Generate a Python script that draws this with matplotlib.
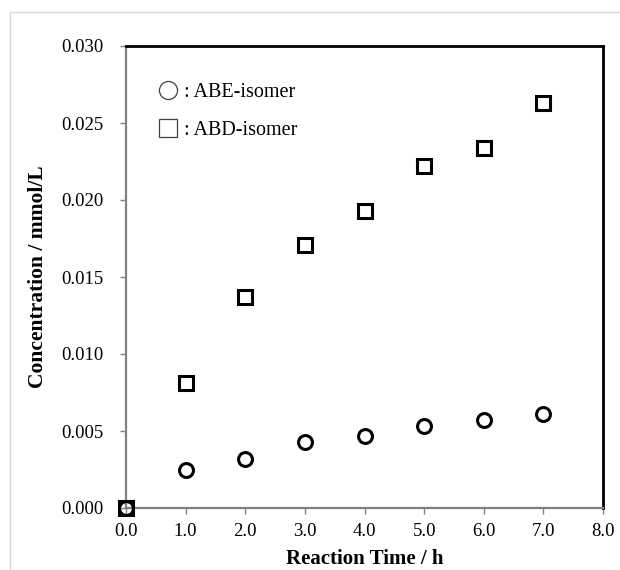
import matplotlib.pyplot as plt
from matplotlib.lines import Line2D
from matplotlib.patches import Rectangle
from matplotlib.ticker import FormatStrFormatter, MultipleLocator

time_h = [0, 1, 2, 3, 4, 5, 6, 7]
abe_isomer = [0.0, 0.0025, 0.0032, 0.0043, 0.0047, 0.0053, 0.0057, 0.0061]
abd_isomer = [0.0, 0.0081, 0.0137, 0.0171, 0.0193, 0.0222, 0.0234, 0.0263]

plt.rcParams['font.family'] = ['Liberation Serif', 'DejaVu Serif']

fig = plt.figure(figsize=(6.2, 5.7), dpi=100)
ax = fig.add_axes([126 / 620, 1 - 508 / 570, 477 / 620, 462 / 570])

# light frame around the chart area
fig.add_artist(Rectangle((10 / 620, -0.1), 2, 1 - 12 / 570 + 0.1,
                         transform=fig.transFigure, fill=False,
                         edgecolor='#d9d9d9', linewidth=1))

ax.plot(time_h, abe_isomer, 'o', ms=10, mfc='none', mec='black', mew=2.2,
        clip_on=False, zorder=5)
ax.plot(time_h, abd_isomer, 's', ms=10, mfc='none', mec='black', mew=2.2,
        clip_on=False, zorder=5)

ax.set_xlim(0, 8)
ax.set_ylim(0, 0.030)
ax.xaxis.set_major_locator(MultipleLocator(1))
ax.yaxis.set_major_locator(MultipleLocator(0.005))
ax.xaxis.set_major_formatter(FormatStrFormatter('%.1f'))
ax.yaxis.set_major_formatter(FormatStrFormatter('%.3f'))

for side in ['left', 'bottom']:
    ax.spines[side].set_color('#808080')
    ax.spines[side].set_linewidth(1.6)
for side in ['top', 'right']:
    ax.spines[side].set_color('black')
    ax.spines[side].set_linewidth(2)

ax.tick_params(axis='y', direction='out', length=4, width=1, color='#808080',
               labelsize=13.5, pad=12)
ax.tick_params(axis='x', direction='out', length=4, width=1, color='#808080',
               labelsize=13.5, pad=7)

ax.set_xlabel('Reaction Time / h', fontsize=15, fontweight='bold', labelpad=6)
ax.set_ylabel('Concentration / mmol/L', fontsize=15.5, fontweight='bold', labelpad=10)

handles = [
    Line2D([], [], marker='o', ls='none', ms=13, mfc='none', mec='#404040', mew=0.9),
    Line2D([], [], marker='s', ls='none', ms=13, mfc='none', mec='#404040', mew=0.9),
]
ax.legend(handles, [': ABE-isomer', ': ABD-isomer'], loc='upper left',
          bbox_to_anchor=(0.045, 0.942), frameon=False, fontsize=14.5,
          handlelength=1.0, handletextpad=0.3, labelspacing=0.95, borderpad=0)

fig.savefig('out.png', dpi=100)
